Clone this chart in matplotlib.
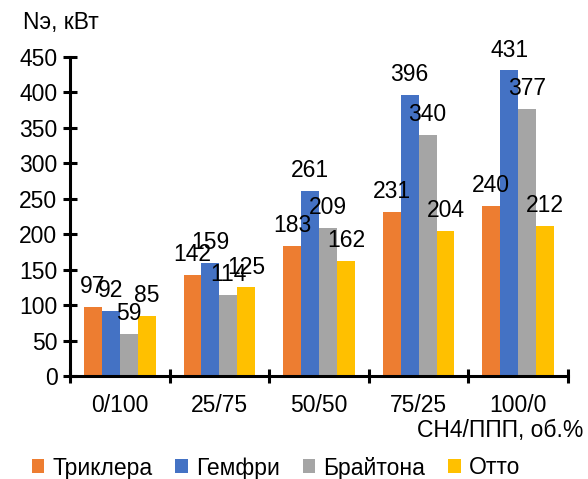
import matplotlib
matplotlib.use("Agg")
import matplotlib.pyplot as plt
from matplotlib.ticker import FixedLocator, NullFormatter
import numpy as np

plt.rcParams['font.family'] = ['Liberation Sans', 'DejaVu Sans']

categories = ["0/100", "25/75", "50/50", "75/25", "100/0"]
series_names = ["Триклера", "Гемфри", "Брайтона", "Отто"]
trickler = [97, 142, 183, 231, 240]
humphrey = [92, 159, 261, 396, 431]
brighton = [59, 114, 209, 340, 377]
otto = [85, 125, 162, 204, 212]
colors = ["#ED7D31", "#4472C4", "#A5A5A5", "#FFC000"]
y_ticks = [0, 50, 100, 150, 200, 250, 300, 350, 400, 450]

FS = 16.5
fig = plt.figure(figsize=(5.88, 4.79), dpi=100)
ax = fig.add_axes([70 / 588, 1 - 376 / 479, 498 / 588, 319 / 479])

x = np.arange(len(categories))
w = 0.18
all_series = [trickler, humphrey, brighton, otto]
handles = []
for i, (vals, name, col) in enumerate(zip(all_series, series_names, colors)):
    pos = x + (i - 1.5) * w
    b = ax.bar(pos, vals, width=w, color=col, label=name, zorder=2)
    handles.append(b)
    for px, v in zip(pos, vals):
        ax.annotate(str(v), (px, v), xytext=(0, 10), textcoords="offset points",
                    ha="center", va="baseline", fontsize=FS, zorder=3)

ax.set_xlim(-0.5, len(categories) - 0.5)
ax.set_ylim(0, 450)
ax.set_yticks(y_ticks)
ax.set_xticks(x)
ax.set_xticklabels(categories, fontsize=FS)
ax.xaxis.set_minor_locator(FixedLocator(np.arange(-0.5, len(categories), 1.0)))
ax.xaxis.set_minor_formatter(NullFormatter())
ax.tick_params(axis="x", which="major", length=0, pad=13)
ax.tick_params(axis="x", which="minor", direction="inout", length=10, width=2.2)
ax.tick_params(axis="y", direction="inout", length=10, width=2.2, labelsize=FS, pad=4)

for s in ["top", "right"]:
    ax.spines[s].set_visible(False)
for s in ["left", "bottom"]:
    ax.spines[s].set_linewidth(2.2)
    ax.spines[s].set_zorder(4)

fig.text(23 / 588, 1 - 23 / 479, "Nэ, кВт", fontsize=FS, ha="left", va="center")
fig.text(583 / 588, 1 - 430 / 479, "CH4/ППП, об.%", fontsize=FS, ha="right", va="center")

fig.legend(handles=handles, labels=series_names, loc="center",
           bbox_to_anchor=(276 / 588, 1 - 468 / 479), ncol=4, frameon=False,
           fontsize=FS, handlelength=0.55, handleheight=0.55,
           handletextpad=0.35, columnspacing=1.0, borderaxespad=0)

fig.savefig("out.png", dpi=100)
